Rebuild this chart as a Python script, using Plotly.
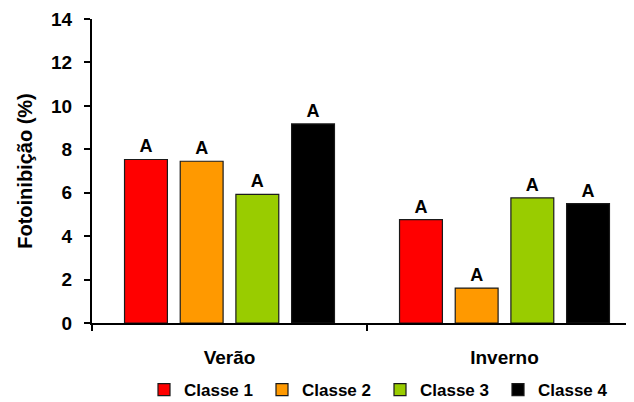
import plotly.graph_objects as go

seasons = ["Verão", "Inverno"]
classes = ["Classe 1", "Classe 2", "Classe 3", "Classe 4"]
values = {
    "Classe 1": [7.53, 4.76],
    "Classe 2": [7.45, 1.61],
    "Classe 3": [5.92, 5.76],
    "Classe 4": [9.17, 5.50],
}
letters = {
    "Classe 1": ["A", "A"],
    "Classe 2": ["A", "A"],
    "Classe 3": ["A", "A"],
    "Classe 4": ["A", "A"],
}
colors = ["#FF0000", "#FF9900", "#99CC00", "#000000"]
y_ticks = [0, 2, 4, 6, 8, 10, 12, 14]

FONT = "Liberation Sans, Arial, sans-serif"

fig = go.Figure()
for cls, col in zip(classes, colors):
    fig.add_trace(go.Bar(
        name=cls, x=seasons, y=values[cls],
        marker=dict(color=col, line=dict(color="#1a1a1a", width=1.2)),
        text=letters[cls], textposition="outside", cliponaxis=False,
        textfont=dict(family=FONT, size=18, color="black", weight="bold"),
    ))

# page body adds an 8px offset, so the figure is placed accordingly
OFF = 8
W, H = 634, 402
L, R, T, B = 92 - OFF, 0, 19 - OFF, H - (323 - OFF)
pw = W - L - R
ph = H - T - B
fig.update_layout(
    width=W, height=H,
    margin=dict(l=L, r=R, t=T, b=B, autoexpand=False),
    paper_bgcolor="white", plot_bgcolor="white",
    barmode="group", bargap=0.19, bargroupgap=0.23,
    font=dict(family=FONT, color="black"),
    showlegend=True,
    legend=dict(
        orientation="h", x=(136 - L) / pw, xanchor="left",
        y=(ph + T - (390 - OFF)) / ph, yanchor="middle",
        font=dict(family=FONT, size=17, color="black", weight="bold"),
        entrywidth=73, entrywidthmode="pixels",
        itemwidth=30, traceorder="normal",
        bgcolor="rgba(0,0,0,0)",
    ),
    xaxis=dict(
        type="category", range=[-0.5, 1.5], automargin=False,
        showline=True, linecolor="black", linewidth=2,
        ticks="outside", tickson="boundaries", ticklen=6, tickwidth=1.5,
        tickcolor="black", ticklabelstandoff=16,
        tickfont=dict(family=FONT, size=19, color="black", weight="bold"),
        showgrid=False, zeroline=False,
    ),
    yaxis=dict(
        range=[0, 14], tickvals=y_ticks, automargin=False,
        showline=True, linecolor="black", linewidth=2,
        ticks="outside", ticklen=6, tickwidth=1.5, tickcolor="black",
        ticklabelstandoff=8,
        tickfont=dict(family=FONT, size=19, color="black", weight="bold"),
        title=dict(text="Fotoinibição (%)", standoff=13,
                   font=dict(family=FONT, size=20, color="black", weight="bold")),
        showgrid=False, zeroline=False,
    ),
)

fig.write_html("out.html")
